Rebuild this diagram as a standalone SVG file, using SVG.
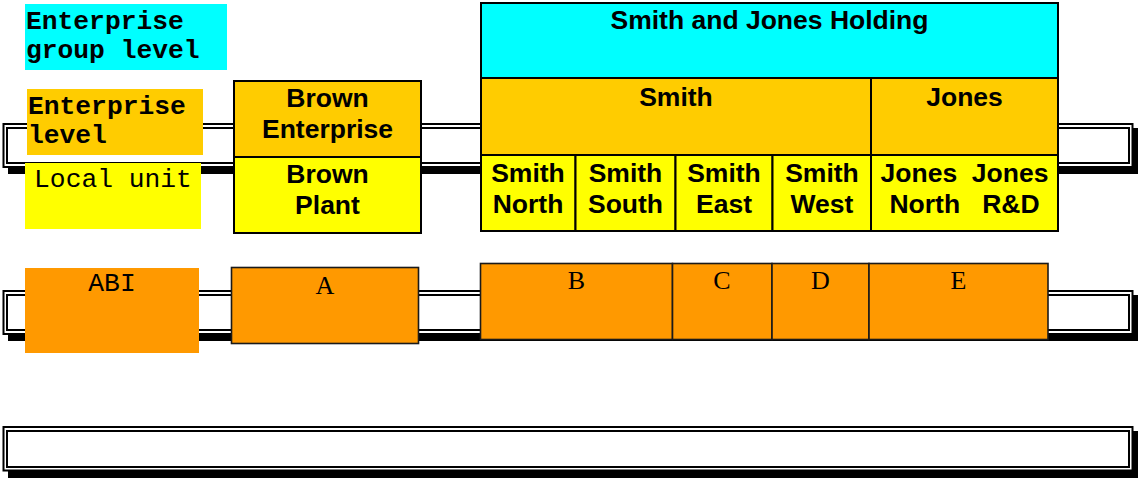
<svg xmlns="http://www.w3.org/2000/svg" width="1138" height="479" viewBox="0 0 1138 479">
<style>
.shadow{fill:#000}
.bo{fill:#fff;stroke:#000;stroke-width:2}
.bi{fill:none;stroke:#000;stroke-width:2}
.box{stroke:#000;stroke-width:2}
.ubox{fill:#FF9900;stroke:#1a1a1a;stroke-width:1.6}
.cyan{fill:#00FFFF}
.gold{fill:#FFCC00}
.yellow{fill:#FFFF00}
.orange{fill:#FF9900}
.t{font-family:"Liberation Sans",Arial,sans-serif;font-weight:bold;font-size:26.5px;text-anchor:middle;fill:#000}
.mb{font-family:"Liberation Mono","Courier New",monospace;font-weight:bold;font-size:26.3px;fill:#000}
.m{font-family:"Liberation Mono","Courier New",monospace;font-size:26.3px;fill:#000}
.s{font-family:"Liberation Serif","Times New Roman",serif;font-size:26px;text-anchor:middle;fill:#000}
</style>

<g id="bands">
  <g id="band-enterprise">
    <rect class="shadow" x="8" y="128" width="1130" height="46"/>
    <rect class="bo" x="3.5" y="124" width="1129" height="43"/>
    <rect class="bi" x="7" y="128" width="1122" height="35"/>
  </g>
  <g id="band-abi">
    <rect class="shadow" x="8" y="295" width="1130" height="46"/>
    <rect class="bo" x="3.5" y="291" width="1129" height="43"/>
    <rect class="bi" x="7" y="295" width="1122" height="35"/>
  </g>
  <g id="band-bottom">
    <rect class="shadow" x="8" y="431" width="1130" height="47"/>
    <rect class="bo" x="3.5" y="427" width="1129" height="43.5"/>
    <rect class="bi" x="7" y="431" width="1122" height="36"/>
  </g>
</g>

<g id="connectors"></g>

<g id="label-group-level">
  <rect class="cyan" x="25" y="4" width="202" height="66"/>
  <text class="mb" x="26" y="28.5">Enterprise</text>
  <text class="mb" x="26" y="58">group level</text>
</g>
<g id="label-enterprise-level">
  <rect class="gold" x="27" y="89" width="176" height="66"/>
  <text class="mb" x="28" y="113.5">Enterprise</text>
  <text class="mb" x="28" y="143">level</text>
</g>
<g id="label-local-unit">
  <rect class="yellow" x="25" y="163" width="176" height="66"/>
  <text class="m" x="113" y="187" text-anchor="middle">Local unit</text>
</g>
<g id="label-abi">
  <rect class="orange" x="25" y="268" width="174" height="85"/>
  <text class="m" x="112" y="291" text-anchor="middle">ABI</text>
</g>

<g id="brown-enterprise">
  <rect class="box gold" x="234" y="81" width="187" height="76"/>
  <text class="t" x="327.5" y="106.5">Brown</text>
  <text class="t" x="327.5" y="137.5">Enterprise</text>
</g>
<g id="brown-plant">
  <rect class="box yellow" x="234" y="157" width="187" height="76"/>
  <text class="t" x="327.5" y="182.5">Brown</text>
  <text class="t" x="327.5" y="213.5">Plant</text>
</g>

<g id="smith-jones-holding">
  <rect class="box cyan" x="481" y="3" width="577" height="75"/>
  <text class="t" x="769.5" y="29">Smith and Jones Holding</text>
</g>
<g id="smith">
  <rect class="box gold" x="481" y="78" width="390" height="77"/>
  <text class="t" x="676" y="105.5">Smith</text>
</g>
<g id="jones">
  <rect class="box gold" x="871" y="78" width="187" height="77"/>
  <text class="t" x="964.5" y="105.5">Jones</text>
</g>
<g id="smith-north">
  <rect class="box yellow" x="481" y="155" width="94.5" height="76"/>
  <text class="t" x="528" y="181.5">Smith</text>
  <text class="t" x="528" y="212.5">North</text>
</g>
<g id="smith-south">
  <rect class="box yellow" x="575.5" y="155" width="100" height="76"/>
  <text class="t" x="625.5" y="181.5">Smith</text>
  <text class="t" x="625.5" y="212.5">South</text>
</g>
<g id="smith-east">
  <rect class="box yellow" x="675.5" y="155" width="97" height="76"/>
  <text class="t" x="724" y="181.5">Smith</text>
  <text class="t" x="724" y="212.5">East</text>
</g>
<g id="smith-west">
  <rect class="box yellow" x="772.5" y="155" width="98.5" height="76"/>
  <text class="t" x="822" y="181.5">Smith</text>
  <text class="t" x="822" y="212.5">West</text>
</g>
<g id="jones-units">
  <rect class="box yellow" x="871" y="155" width="187" height="76"/>
  <text class="t" x="964.5" y="181.5" xml:space="preserve">Jones  Jones</text>
  <text class="t" x="964.5" y="212.5" xml:space="preserve">North   R&amp;D</text>
</g>

<g id="unit-a">
  <rect class="ubox" x="231.5" y="267.5" width="187" height="76"/>
  <text class="s" x="325" y="294">A</text>
</g>
<g id="unit-b">
  <rect class="ubox" x="480.5" y="263.5" width="192" height="76"/>
  <text class="s" x="576.5" y="289">B</text>
</g>
<g id="unit-c">
  <rect class="ubox" x="672.5" y="263.5" width="99.5" height="76"/>
  <text class="s" x="722" y="289">C</text>
</g>
<g id="unit-d">
  <rect class="ubox" x="772" y="263.5" width="97" height="76"/>
  <text class="s" x="820.5" y="289">D</text>
</g>
<g id="unit-e">
  <rect class="ubox" x="869" y="263.5" width="179" height="76"/>
  <text class="s" x="958.5" y="289">E</text>
</g>
</svg>
